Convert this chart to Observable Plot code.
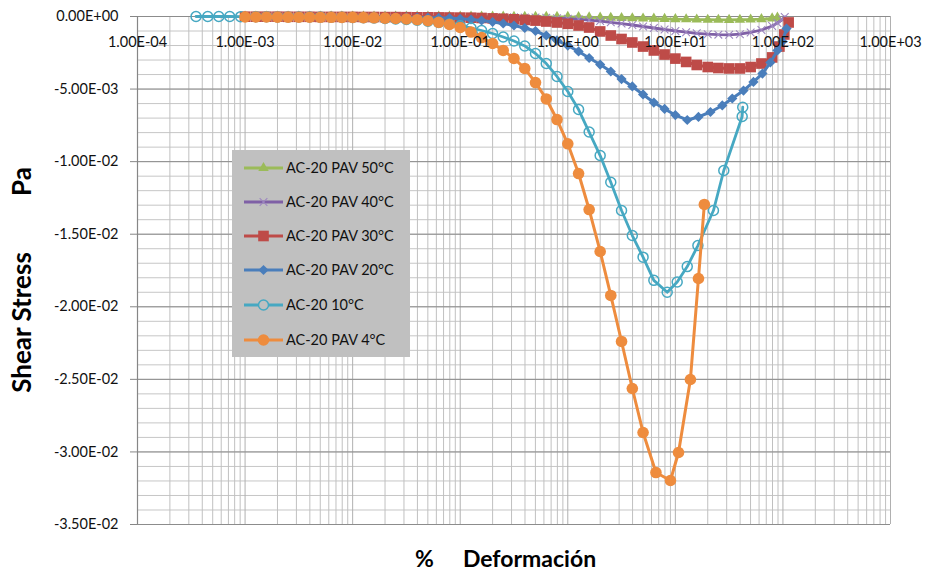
<!DOCTYPE html>
<html><head><meta charset="utf-8">
<script src="https://cdn.jsdelivr.net/npm/d3@7"></script>
<script src="https://cdn.jsdelivr.net/npm/@observablehq/plot@0.6"></script>
<style>
body{margin:0;background:#fff;}
#wrap{position:relative;width:928px;height:574px;font-family:Lato,sans-serif;}
#legend{position:absolute;left:232px;top:150px;width:178px;height:207px;background:#c0c0c0;}
</style></head><body><div id="wrap"></div>
<script>
// strain grid (% deformation), 10 points per decade
const strainGrid = [0.001,0.00126,0.00158,0.002,0.00251,0.00316,0.00398,0.00501,0.00631,0.00794,
  0.01,0.0126,0.0158,0.02,0.0251,0.0316,0.0398,0.0501,0.0631,0.0794,
  0.1,0.126,0.158,0.2,0.251,0.316,0.398,0.501,0.631,0.794,
  1,1.26,1.58,2,2.51,3.16,3.98,5.01,6.31,7.94,
  10,12.6,15.8,20,25.1,31.6,39.8,50.1,63.1,79.4,100];

// AC-20 PAV 50°C
const green_x = strainGrid.slice(0, 50).concat([88.9]);
const green_y = [-0.000005,-0.000005,-0.000005,-0.000005,-0.000005,-0.000005,-0.000005,-0.000005,-0.000005,-0.000005,
  -0.000005,-0.000005,-0.000005,-0.000005,-0.000005,-0.000005,-0.000005,-0.000005,-0.000005,-0.000005,
  -0.000007,-0.000008,-0.00001,-0.000011,-0.000012,-0.000014,-0.000016,-0.000018,-0.00002,-0.000025,
  -0.00003,-0.000045,-0.00006,-0.000076,-0.00009,-0.000105,-0.00012,-0.000135,-0.00015,-0.000165,
  -0.00018,-0.000195,-0.00021,-0.000222,-0.00023,-0.000232,-0.000225,-0.00021,-0.00018,-0.00013,
  -0.00008];

// AC-20 PAV 40°C
const purple_x = strainGrid.slice(0, 50).concat([88.9, 99, 104]);
const purple_y = [-0.000014,-0.000014,-0.000014,-0.000014,-0.000014,-0.000014,-0.000014,-0.000014,-0.000014,-0.000014,
  -0.00002,-0.00002,-0.00002,-0.00002,-0.00002,-0.000028,-0.000028,-0.000028,-0.000028,-0.000028,
  -0.000034,-0.000034,-0.000041,-0.000041,-0.000048,-0.000055,-0.000062,
  -0.000069,-0.00009,-0.000117,-0.000152,-0.000193,-0.000248,-0.000317,-0.0004,-0.000489,-0.000586,
  -0.000689,-0.000792,-0.000896,-0.000992,-0.00108,-0.00116,-0.00122,-0.00125,-0.00126,-0.00122,
  -0.0011,-0.00093,-0.000655,
  -0.000448,-0.000207,-0.000034];

// AC-20 PAV 30°C
const red_x = strainGrid.slice(0, 50).concat([92.7, 103, 113]);
const red_y = [-0.000014,-0.000014,-0.000014,-0.000014,-0.00002,-0.00002,-0.00002,-0.000028,-0.000028,-0.000028,
  -0.000028,-0.000034,-0.000034,-0.000041,-0.000041,-0.000048,-0.000055,-0.000055,-0.000062,-0.000069,-0.000076,
  -0.000083,-0.000103,-0.000131,-0.000158,-0.000193,-0.000234,-0.000282,-0.000345,-0.000413,
  -0.000503,-0.00062,-0.000758,-0.00103,-0.00131,-0.00155,-0.00179,-0.00207,-0.00234,-0.00262,
  -0.0029,-0.00313,-0.00334,-0.00348,-0.00355,-0.00358,-0.00358,-0.00348,-0.00324,-0.00282,
  -0.00207,-0.00124,-0.00041];

// AC-20 PAV 20°C
const blue_x = strainGrid.slice(0, 41).concat([12.9,16.4,21.2,27.3,33.8,43,53.2,64.5,76.4,88.9,98.9,108]);
const blue_y = [-0.00002,-0.00002,-0.00002,-0.00002,-0.00002,-0.00002,-0.00002,-0.00002,-0.00002,-0.00002,
  -0.000028,-0.000034,-0.000041,-0.000048,-0.000055,-0.000062,-0.000069,-0.000083,-0.000096,-0.00011,
  -0.000158,-0.000207,-0.000276,-0.000379,-0.000482,-0.00062,-0.000792,-0.000999,-0.00131,-0.00165,
  -0.002,-0.00241,-0.00286,-0.00331,-0.00379,-0.00431,-0.00482,-0.00537,-0.00593,-0.00637,-0.00679,
  -0.00713,-0.00692,-0.00658,-0.00613,-0.00565,-0.0051,-0.00451,-0.00393,-0.00317,-0.00234,-0.00172,-0.00083];

// AC-20 10°C
const teal_x = [0.00035,0.00045,0.00057,0.00072,0.00091].concat(strainGrid.slice(1, 39), [8.4,10.4,12.9,16.2,22.6,28.2,41.8,42.3]);
const teal_y = [0,0,0,0,-0.00001,
  -0.00002,-0.00002,-0.000028,-0.000028,-0.000034,-0.000034,-0.000041,-0.000048,-0.000055,
  -0.000069,-0.000083,-0.000103,-0.000131,-0.000165,-0.000207,-0.000262,-0.000331,-0.000413,-0.000517,
  -0.000641,-0.000792,-0.000965,-0.00117,-0.00141,-0.00169,-0.00203,-0.00255,-0.00324,-0.00413,
  -0.00517,-0.00641,-0.00796,-0.00958,-0.01142,-0.01337,-0.01509,-0.01658,-0.01818,
  -0.019,-0.01829,-0.01723,-0.01578,-0.01337,-0.01061,-0.00689,-0.00625];

// AC-20 PAV 4°C
const orange_x = strainGrid.slice(0, 38).concat([6.6, 9.0, 10.7, 13.8, 16.4, 18.6]);
const orange_y = [-0.000034,-0.000034,-0.000034,-0.000041,-0.000041,-0.000048,-0.000048,-0.000055,-0.000055,-0.000062,
  -0.000062,-0.000076,-0.00009,-0.00011,-0.000138,-0.000172,-0.00022,-0.000289,-0.0004,-0.000551,
  -0.000758,-0.00107,-0.00145,-0.00186,-0.00234,-0.00289,-0.00358,-0.00455,-0.00568,-0.0071,
  -0.00877,-0.01082,-0.0133,-0.01619,-0.01922,-0.02239,-0.02563,-0.02866,-0.03142,
  -0.03197,-0.03004,-0.02501,-0.01805,-0.01295];

const seriesNames = ["AC-20 PAV 50°C","AC-20 PAV 40°C","AC-20 PAV 30°C","AC-20 PAV 20°C","AC-20 10°C","AC-20 PAV 4°C"];

// axes
const xTicks = [1e-4,1e-3,1e-2,1e-1,1,10,100,1000];
const xTickLabels = ["1.00E-04","1.00E-03","1.00E-02","1.00E-01","1.00E+00","1.00E+01","1.00E+02","1.00E+03"];
const yTicks = [0,-0.005,-0.01,-0.015,-0.02,-0.025,-0.03,-0.035];
const yTickLabels = ["0.00E+00","-5.00E-03","-1.00E-02","-1.50E-02","-2.00E-02","-2.50E-02","-3.00E-02","-3.50E-02"];

const styles = [
  {color:"#9bbb59", symbol:"triangle", d3s:d3.symbolTriangle, r:3.9, filled:true, sw:2.8},
  {color:"#7f60a6", symbol:"times", d3s:d3.symbolTimes, r:3.6, filled:false, sw:2.8, msw:1.1, mcolor:"#9d86c0"},
  {color:"#be4b48", symbol:"square", d3s:d3.symbolSquare, r:6.0, filled:true, sw:3},
  {color:"#4a7ebb", symbol:"diamond2", d3s:d3.symbolDiamond2, r:4.6, filled:true, sw:3},
  {color:"#46a8c2", symbol:"circle", d3s:d3.symbolCircle, r:5.0, filled:false, sw:2.8, msw:1.5},
  {color:"#ee8c3e", symbol:"circle", d3s:d3.symbolCircle, r:5.8, filled:true, sw:3}
];
const seriesX = [green_x, purple_x, red_x, blue_x, teal_x, orange_x];
const seriesY = [green_y, purple_y, red_y, blue_y, teal_y, orange_y];

const xMinor = xTicks.slice(0, -1).flatMap(d => [2,3,4,5,6,7,8,9].map(m => d * m));
const yMinor = d3.range(0, 36).map(i => -i * 0.001);

const dataMarks = seriesX.flatMap((xs, si) => {
  const s = styles[si];
  const data = xs.map((x, i) => ({x, y: seriesY[si][i]}));
  return [
    Plot.line(data, {x: "x", y: "y", stroke: s.color, strokeWidth: s.sw}),
    Plot.dot(data, {x: "x", y: "y", symbol: s.symbol, r: s.r,
      fill: s.filled ? s.color : "none",
      stroke: s.filled ? "none" : (s.mcolor || s.color),
      strokeWidth: s.msw || 1})
  ];
});

const plot = Plot.plot({
  width: 928, height: 574,
  marginLeft: 137, marginRight: 38, marginTop: 16, marginBottom: 50,
  style: {fontFamily: "Lato, sans-serif", background: "white", overflow: "visible"},
  x: {type: "log", domain: [1e-4, 1e3], axis: null},
  y: {domain: [-0.035, 0]},
  marks: [
    Plot.ruleY(yMinor, {stroke: "#c6c6c6", strokeWidth: 1}),
    Plot.ruleX(xMinor, {stroke: "#c0c0c0", strokeWidth: 1}),
    Plot.ruleX(xTicks, {stroke: "#b0b0b0", strokeWidth: 1}),
    Plot.ruleY(yTicks, {stroke: "#8c8c8c", strokeWidth: 1}),
    Plot.ruleX([1e-4], {stroke: "#868686", strokeWidth: 1.2}),
    Plot.axisY({ticks: yTicks, tickSize: 7, tickFormat: () => "", stroke: "#868686", label: null}),
    Plot.axisY({ticks: yTicks, tickSize: 0, tickPadding: 19, fontSize: 14.5, fill: "#111",
      tickFormat: (d) => yTickLabels[yTicks.indexOf(d)], label: null}),
    ...dataMarks,
    Plot.text(xTicks, {x: d => d, y: 0, text: (d, i) => xTickLabels[i], dy: 26, fontSize: 14.5, fill: "#111"}),
    Plot.text(["Shear Stress"], {frameAnchor: "left", dx: -115, dy: 52, rotate: -90, textAnchor: "middle",
      lineAnchor: "middle", fontSize: 26, fontWeight: "bold", fill: "#000"}),
    Plot.text(["Pa"], {frameAnchor: "left", dx: -115, dy: -89, rotate: -90, textAnchor: "middle",
      lineAnchor: "middle", fontSize: 26, fontWeight: "bold", fill: "#000"}),
    Plot.text(["%"], {frameAnchor: "bottom", dx: -89.5, dy: 35, textAnchor: "middle",
      lineAnchor: "middle", fontSize: 23, fontWeight: "bold", fill: "#000"}),
    Plot.text(["Deformación"], {frameAnchor: "bottom", dx: 15.5, dy: 35, textAnchor: "middle",
      lineAnchor: "middle", fontSize: 23, fontWeight: "bold", fill: "#000"})
  ]
});

const wrap = document.getElementById("wrap");
wrap.appendChild(plot);

// legend (inside plot area)
const legend = d3.select(wrap).append("div").attr("id", "legend");
const lsvg = legend.append("svg").attr("width", 178).attr("height", 207)
  .style("font-family", "Lato, sans-serif");
const rowY = [18, 52, 86, 120, 155, 190];
seriesNames.forEach((name, i) => {
  const s = styles[i];
  const g = lsvg.append("g").attr("transform", `translate(0,${rowY[i]})`);
  g.append("line").attr("x1", 12).attr("x2", 51).attr("y1", 0).attr("y2", 0)
    .attr("stroke", s.color).attr("stroke-width", s.sw);
  g.append("path").attr("transform", "translate(31.5,0)")
    .attr("d", d3.symbol(s.d3s, s.r * s.r * Math.PI)())
    .attr("fill", s.filled ? s.color : (s.symbol === "circle" ? "#c0c0c0" : "none"))
    .attr("stroke", s.filled ? "none" : (s.mcolor || s.color))
    .attr("stroke-width", s.msw || 1);
  g.append("text").attr("x", 54).attr("y", 0).attr("dy", "0.35em")
    .attr("font-size", 14.5).attr("fill", "#111").text(name);
});
</script></body></html>
